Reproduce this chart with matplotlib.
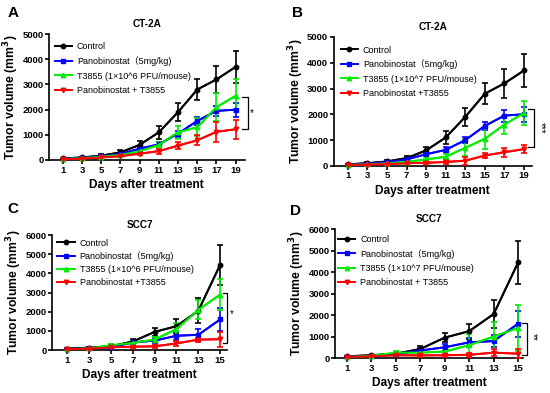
import matplotlib.pyplot as plt
import numpy as np

plt.rcParams['font.family'] = ['Liberation Sans', 'Noto Sans CJK SC', 'DejaVu Sans']

days_ct = [1, 3, 5, 7, 9, 11, 13, 15, 17, 19]
days_scc = [1, 3, 5, 7, 9, 11, 13, 15]

# panel A  (CT-2A, 1x10^6)
a_ctrl = [60, 100, 170, 300, 600, 1100, 1900, 2800, 3200, 3700]
a_ctrl_err = [30, 30, 50, 100, 150, 250, 350, 400, 550, 650]
a_pano = [50, 80, 150, 230, 450, 620, 1050, 1550, 1950, 2000]
a_pano_err = [20, 20, 30, 50, 80, 100, 120, 150, 200, 280]
a_t38 = [40, 70, 130, 200, 350, 600, 1100, 1300, 2100, 2550]
a_t38_err = [20, 20, 30, 50, 80, 100, 250, 350, 550, 650]
a_comb = [30, 50, 100, 150, 250, 350, 570, 780, 1120, 1220]
a_comb_err = [10, 20, 30, 50, 60, 100, 150, 200, 400, 380]

# panel B  (CT-2A, 1x10^7)
b_ctrl = [60, 100, 170, 300, 600, 1100, 1900, 2800, 3200, 3700]
b_ctrl_err = [30, 30, 50, 100, 150, 250, 350, 400, 550, 650]
b_pano = [50, 90, 150, 250, 450, 620, 1000, 1550, 1950, 2000]
b_pano_err = [20, 20, 30, 50, 80, 100, 120, 150, 230, 280]
b_t38 = [40, 60, 100, 150, 250, 350, 700, 1050, 1600, 2050]
b_t38_err = [10, 20, 30, 50, 80, 100, 300, 400, 350, 450]
b_comb = [30, 50, 70, 100, 120, 150, 200, 400, 530, 650]
b_comb_err = [10, 10, 20, 30, 50, 60, 150, 80, 180, 150]

# panel C  (SCC7, 1x10^6)
c_ctrl = [80, 130, 200, 450, 950, 1250, 2050, 4450]
c_ctrl_err = [20, 30, 50, 150, 200, 350, 650, 1050]
c_pano = [60, 100, 150, 400, 500, 750, 800, 1600]
c_pano_err = [20, 20, 50, 100, 150, 200, 300, 600]
c_t38 = [50, 100, 250, 380, 550, 1100, 2100, 2900]
c_t38_err = [20, 20, 50, 80, 150, 300, 500, 800]
c_comb = [50, 80, 150, 180, 200, 350, 550, 570]
c_comb_err = [10, 20, 30, 50, 80, 150, 100, 400]

# panel D  (SCC7, 1x10^7)
d_ctrl = [80, 130, 200, 420, 950, 1250, 2050, 4450]
d_ctrl_err = [20, 30, 50, 150, 200, 350, 650, 1020]
d_pano = [60, 100, 180, 350, 500, 730, 790, 1600]
d_pano_err = [20, 20, 50, 100, 150, 200, 300, 600]
d_t38 = [50, 100, 250, 250, 300, 600, 1000, 1400]
d_t38_err = [20, 30, 80, 100, 150, 500, 700, 1050]
d_comb = [50, 80, 130, 120, 130, 150, 250, 200]
d_comb_err = [10, 20, 30, 50, 80, 100, 150, 200]

lab_a = ['Control', 'Panobinostat\uff085mg/kg)',
         'T3855 (1\u00d710^6 PFU/mouse)', 'Panobinostat + T3855']
lab_b = ['Control', 'Panobinostat\uff085mg/kg)',
         'T3855 (1\u00d710^7 PFU/mouse)', 'Panobinostat +T3855']
lab_c = ['Control', 'Panobinostat\uff085mg/kg)',
         'T3855 (1\u00d710^6 PFU/mouse)', 'Panobinostat +T3855']
lab_d = ['Control', 'Panobinostat\uff085mg/kg)',
         'T3855 (1\u00d710^7 PFU/mouse)', 'Panobinostat + T3855']

colors = ['black', '#0000ff', '#00ee00', '#ff0000']
markers = ['o', 's', '^', 'v']

fig = plt.figure(figsize=(5.5, 3.93), dpi=100)


def draw_panel(pos, letter, letter_xy, title, days, series, labels, ymax,
               xlim, bracket, stars, leg_xy, leg_space):
    ax = fig.add_axes(pos)
    for (y, err), lab, c, m in zip(series, labels, colors, markers):
        ax.errorbar(days, y, yerr=err, color=c, lw=1.4, elinewidth=1.2,
                    capsize=2.5, capthick=1.2, clip_on=False, zorder=3)
        ax.plot(days, y, color=c, lw=1.4, marker=m, ms=3.2, label=lab,
                clip_on=False, zorder=4)
    ax.set_xlim(*xlim)
    ax.set_ylim(0, ymax)
    ax.set_xticks(days)
    ax.set_yticks(np.arange(0, ymax + 1, 1000))
    for s in ['top', 'right']:
        ax.spines[s].set_visible(False)
    for s in ['left', 'bottom']:
        ax.spines[s].set_linewidth(1.2)
    ax.tick_params(width=1.2, length=3, labelsize=6.8, pad=1)
    for t in ax.get_xticklabels() + ax.get_yticklabels():
        t.set_fontweight('bold')
    ax.set_xlabel('Days after treatment', fontsize=8.6, fontweight='bold',
                  labelpad=3)
    ax.set_ylabel('Tumor volume (mm$^\\mathbf{3}$)', fontsize=8.8,
                  fontweight='bold', labelpad=1)
    ax.set_title(title, fontsize=7.2, fontweight='bold', pad=5)
    ax.legend(loc='upper left', bbox_to_anchor=leg_xy, frameon=False,
              fontsize=6.5, handlelength=1.9, labelspacing=leg_space,
              handletextpad=0.55, borderaxespad=0, borderpad=0)
    bx0, bx1, ylo, yhi = bracket
    ax.plot([bx0, bx1, bx1, bx0], [yhi, yhi, ylo, ylo], color='black',
            lw=0.9, clip_on=False)
    sx, sy, txt, rot = stars
    ax.text(sx, sy, txt, fontsize=7, rotation=rot, ha='center',
            va='center', clip_on=False)
    fig.text(letter_xy[0], letter_xy[1], letter, fontsize=11,
             fontweight='bold', ha='left', va='center')
    return ax


draw_panel([0.089, 0.593, 0.356, 0.320], 'A', (0.014, 0.966), 'CT-2A',
           days_ct,
           [(a_ctrl, a_ctrl_err), (a_pano, a_pano_err), (a_t38, a_t38_err),
            (a_comb, a_comb_err)], lab_a, 5000, (-0.45, 19.95),
           (19.7, 20.25, 1230, 2500), (20.7, 1850, '*', 0),
           (0.03, 0.934), 0.57)

draw_panel([0.607, 0.578, 0.360, 0.328], 'B', (0.531, 0.966), 'CT-2A',
           days_ct,
           [(b_ctrl, b_ctrl_err), (b_pano, b_pano_err), (b_t38, b_t38_err),
            (b_comb, b_comb_err)], lab_b, 5000, (-0.43, 19.8),
           (19.4, 20.0, 750, 2200), (20.7, 1480, '***', 270),
           (0.035, 0.933), 0.57)

draw_panel([0.095, 0.109, 0.318, 0.293], 'C', (0.014, 0.468), 'SCC7',
           days_scc,
           [(c_ctrl, c_ctrl_err), (c_pano, c_pano_err), (c_t38, c_t38_err),
            (c_comb, c_comb_err)], lab_c, 6000, (-0.37, 15.64),
           (15.27, 15.64, 350, 3000), (16.1, 1880, '*', 0),
           (0.03, 0.969), 0.43)

draw_panel([0.609, 0.089, 0.342, 0.328], 'D', (0.528, 0.462), 'SCC7',
           days_scc,
           [(d_ctrl, d_ctrl_err), (d_pano, d_pano_err), (d_t38, d_t38_err),
            (d_comb, d_comb_err)], lab_d, 6000, (0.02, 15.4),
           (15.3, 15.7, 150, 1650), (16.2, 1000, '**', 270),
           (0.016, 0.957), 0.57)

fig.savefig('out.png', dpi=100)
